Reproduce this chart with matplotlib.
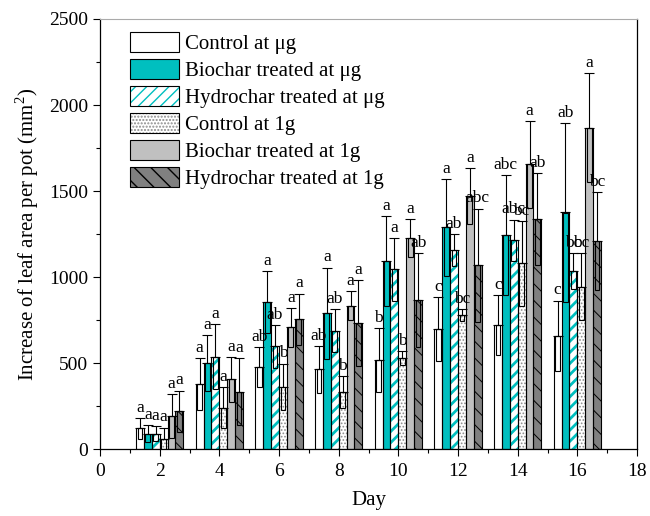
import numpy as np
import matplotlib
matplotlib.use("Agg")
import matplotlib.pyplot as plt
from matplotlib.patches import Patch
from matplotlib.legend_handler import HandlerTuple

plt.rcParams['font.family'] = ['Liberation Serif', 'DejaVu Serif']
plt.rcParams['mathtext.fontset'] = 'custom'
plt.rcParams['mathtext.rm'] = 'Liberation Serif'

days = [2, 4, 6, 8, 10, 12, 14, 16]
series = ["Control at μg", "Biochar treated at μg", "Hydrochar treated at μg",
          "Control at 1g", "Biochar treated at 1g", "Hydrochar treated at 1g"]

# mean increase of leaf area (mm2) per series, one value per day
control_ug   = [120, 378, 478, 463, 517, 697, 720, 658]
biochar_ug   = [90, 500, 856, 790, 1093, 1288, 1243, 1375]
hydro_ug     = [90, 537, 598, 687, 1044, 1156, 1214, 1036]
control_1g   = [60, 240, 362, 333, 530, 780, 1079, 943]
biochar_1g   = [192, 405, 707, 833, 1228, 1470, 1656, 1869]
hydro_1g     = [220, 333, 754, 730, 866, 1069, 1335, 1210]

# error (same for both directions)
err_control_ug = [60, 153, 115, 135, 185, 184, 174, 205]
err_biochar_ug = [50, 163, 180, 265, 262, 280, 350, 518]
err_hydro_ug   = [45, 190, 125, 125, 185, 93, 120, 106]
err_control_1g = [65, 120, 135, 92, 40, 35, 245, 195]
err_biochar_1g = [130, 130, 115, 85, 110, 164, 252, 316]
err_hydro_1g   = [120, 195, 150, 250, 272, 329, 267, 284]

# significance letters
let_control_ug = ["a", "a", "ab", "ab", "b", "c", "c", "c"]
let_biochar_ug = ["a", "a", "a", "a", "a", "a", "abc", "ab"]
let_hydro_ug   = ["a", "a", "ab", "ab", "a", "ab", "abc", "bc"]
let_control_1g = ["a", "a", "b", "b", "b", "bc", "bc", "bc"]
let_biochar_1g = ["a", "a", "a", "a", "a", "a", "a", "a"]
let_hydro_1g   = ["a", "a", "a", "a", "ab", "abc", "ab", "bc"]

means = [control_ug, biochar_ug, hydro_ug, control_1g, biochar_1g, hydro_1g]
errs = [err_control_ug, err_biochar_ug, err_hydro_ug, err_control_1g, err_biochar_1g, err_hydro_1g]
letters = [let_control_ug, let_biochar_ug, let_hydro_ug, let_control_1g, let_biochar_1g, let_hydro_1g]

teal = '#00BFBF'
# facecolor, hatch, hatch colour, hatch linewidth
styles = [('white', '', 'k', 1.0),
          (teal, '', 'k', 1.0),
          ('white', '///', teal, 2.0),
          ('white', '.....', '#8c8c8c', 0.8),
          ('#C0C0C0', '', 'k', 1.0),
          ('#808080', '\\\\', 'k', 0.7)]

fig = plt.figure(figsize=(6.5, 5.16), dpi=100)
ax = fig.add_axes([100/650, 67/516, 537/650, 430/516])

w = 0.265
x = np.array(days, dtype=float)
handles = []
for i in range(6):
    xi = x + (i - 2.5) * w
    fc, hatch, hc, hlw = styles[i]
    m = np.array(means[i])
    e = np.array(errs[i])
    with plt.rc_context({'hatch.linewidth': hlw}):
        ax.bar(xi, m, width=w, color=fc, edgecolor=hc, hatch=hatch, linewidth=0, zorder=2)
        h1 = Patch(facecolor=fc, edgecolor=hc, hatch=hatch, linewidth=0)
    ax.bar(xi, m, width=w, fill=False, edgecolor='k', linewidth=0.8, zorder=3)
    # lower half of the error shown as a box inside the bar
    ax.bar(xi, e, bottom=m - e, width=w * 0.6, fill=False, edgecolor='k', linewidth=0.8, zorder=4)
    ax.errorbar(xi, m, yerr=[np.zeros_like(e), e], fmt='none', ecolor='k',
                elinewidth=0.8, capsize=3.5, capthick=0.8, zorder=4)
    for xx, top, lab in zip(xi, m + e, letters[i]):
        ax.text(xx, top + 12, lab, ha='center', va='bottom', fontsize=12.5)
    h2 = Patch(fill=False, edgecolor='k', linewidth=0.8)
    handles.append((h1, h2))

ax.set_xlim(0, 18)
ax.set_ylim(0, 2500)
ax.set_xticks(np.arange(0, 19, 2))
ax.set_xticks(np.arange(1, 18, 2), minor=True)
ax.set_yticks(np.arange(0, 2501, 500))
ax.set_yticks(np.arange(250, 2500, 500), minor=True)
ax.tick_params(which='both', direction='out', labelsize=14, width=0.8)
ax.tick_params(which='major', length=5)
ax.tick_params(which='minor', length=3)
ax.tick_params(axis='x', pad=5)
ax.spines['top'].set_color('#aaaaaa')
for s in ['left', 'bottom', 'right']:
    ax.spines[s].set_linewidth(0.9)

ax.set_xlabel("Day", fontsize=15, labelpad=8)
ax.set_ylabel(r"Increase of leaf area per pot (mm$^{2}$)", fontsize=15, labelpad=6)

ax.legend(handles, series, handler_map={tuple: HandlerTuple(ndivide=1)},
          loc='upper left', bbox_to_anchor=(0.04, 0.99), frameon=False,
          fontsize=15, handlelength=2.35, handleheight=1.15, labelspacing=0.22,
          handletextpad=0.3, borderaxespad=0)

plt.savefig("out.png", dpi=100)
